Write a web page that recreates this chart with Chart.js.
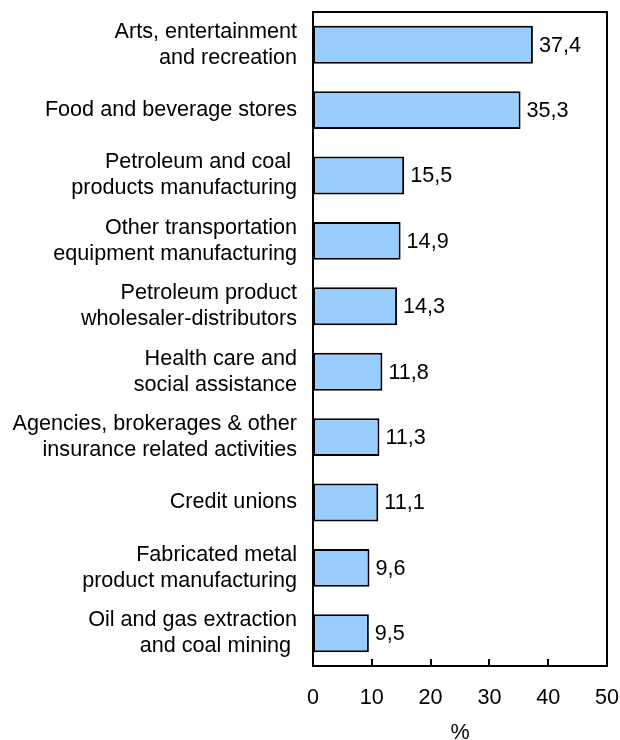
<!DOCTYPE html>
<html>
<head>
<meta charset="utf-8">
<script src="https://cdn.jsdelivr.net/npm/chart.js@4/dist/chart.umd.min.js"></script>
<style>
  html, body { margin: 0; padding: 0; background: #fff; }
  #wrap { width: 620px; height: 740px; }
</style>
</head>
<body>
<div id="wrap"><canvas id="c" width="620" height="740"></canvas></div>
<script>
// Industry categories (top to bottom)
const industries = [
  ['Arts, entertainment', 'and recreation'],
  'Food and beverage stores',
  ['Petroleum and coal ', 'products manufacturing'],
  ['Other transportation', 'equipment manufacturing'],
  ['Petroleum product', 'wholesaler-distributors'],
  ['Health care and', 'social assistance'],
  ['Agencies, brokerages & other', 'insurance related activities'],
  'Credit unions',
  ['Fabricated metal', 'product manufacturing'],
  ['Oil and gas extraction', 'and coal mining ']
];
// Share, in percent
const shares = [37.4, 35.3, 15.5, 14.9, 14.3, 11.8, 11.3, 11.1, 9.6, 9.5];
// Horizontal axis
const axisMin = 0;
const axisMax = 50;
const axisStep = 10;
const axisTitle = '%';

const FONT = "'Liberation Sans', Arial, sans-serif";
const SIZE = 21.6;

// Frame round the plot, inward tick marks on the bottom axis, value labels
const decorations = {
  id: 'decorations',
  afterDatasetsDraw(chart) {
    const { ctx, chartArea: a, scales } = chart;
    const x = scales.x;
    ctx.save();
    ctx.strokeStyle = '#000';
    ctx.lineWidth = 2;
    ctx.strokeRect(a.left, a.top, a.right - a.left, a.bottom - a.top);
    ctx.beginPath();
    for (let v = axisMin; v <= axisMax; v += axisStep) {
      const px = Math.round(x.getPixelForValue(v));
      ctx.moveTo(px, a.bottom);
      ctx.lineTo(px, a.bottom - 7);
    }
    ctx.stroke();

    ctx.fillStyle = '#000';
    ctx.font = SIZE + 'px ' + FONT;
    ctx.textAlign = 'left';
    ctx.textBaseline = 'middle';
    const meta = chart.getDatasetMeta(0);
    meta.data.forEach((bar, i) => {
      const txt = shares[i].toFixed(1).replace('.', ',');
      ctx.fillText(txt, bar.x + 6, bar.y + 1);
    });
    ctx.restore();
  }
};

new Chart(document.getElementById('c'), {
  type: 'bar',
  data: {
    labels: industries,
    datasets: [{
      data: shares,
      backgroundColor: '#99CCFF',
      borderColor: '#000',
      borderWidth: 2,
      borderSkipped: false,
      categoryPercentage: 1,
      barPercentage: 0.58
    }]
  },
  options: {
    indexAxis: 'y',
    responsive: false,
    animation: false,
    devicePixelRatio: 1,
    layout: { padding: { top: 12, right: 13, left: 0, bottom: 0 } },
    plugins: {
      legend: { display: false },
      tooltip: { enabled: false }
    },
    scales: {
      x: {
        min: axisMin,
        max: axisMax,
        grid: { display: false, drawTicks: false },
        border: { display: false },
        ticks: {
          stepSize: axisStep,
          padding: 19,
          color: '#000',
          font: { family: FONT, size: SIZE }
        },
        title: {
          display: true,
          text: axisTitle,
          color: '#000',
          padding: { top: 0, bottom: 0 },
          font: { family: FONT, size: SIZE, lineHeight: '13px' }
        },
        afterFit(scale) {
          scale.height = 74;
          scale.paddingLeft = 0;
          scale.paddingRight = 0;
        }
      },
      y: {
        grid: { display: false, drawTicks: false },
        border: { display: false },
        ticks: {
          padding: 16,
          color: '#000',
          font: { family: FONT, size: SIZE, lineHeight: 1.2 }
        },
        afterFit(scale) {
          scale.width = 313;
          scale.paddingTop = 0;
          scale.paddingBottom = 0;
        }
      }
    }
  },
  plugins: [decorations]
});
</script>
</body>
</html>
